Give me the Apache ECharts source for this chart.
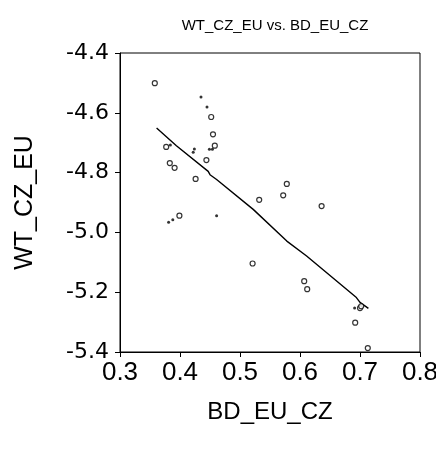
<!DOCTYPE html>
<html>
<head>
<meta charset="utf-8">
<script src="https://cdn.jsdelivr.net/npm/echarts@6/dist/echarts.min.js"></script>
<style>
html, body { margin: 0; padding: 0; background: #fff; }
#chart { width: 436px; height: 452px; }
</style>
</head>
<body>
<div id="chart"></div>
<script>
// hollow circle observations
var circleX = [0.358, 0.452, 0.455, 0.458, 0.444, 0.377, 0.383, 0.391, 0.426, 0.399, 0.532, 0.572, 0.578, 0.636, 0.521, 0.607, 0.612, 0.700, 0.702, 0.692, 0.713];
var circleY = [-4.501, -4.614, -4.672, -4.710, -4.758, -4.714, -4.768, -4.784, -4.821, -4.944, -4.891, -4.876, -4.838, -4.912, -5.104, -5.163, -5.190, -5.253, -5.247, -5.302, -5.387];
// small filled dots
var dotX = [0.435, 0.445, 0.449, 0.454, 0.424, 0.422, 0.384, 0.388, 0.381, 0.461, 0.691];
var dotY = [-4.547, -4.581, -4.722, -4.722, -4.721, -4.732, -4.708, -4.958, -4.966, -4.944, -5.253];
// fitted line
var fitX = [0.361, 0.394, 0.447, 0.450, 0.461, 0.522, 0.578, 0.611, 0.694, 0.700, 0.714];
var fitY = [-4.651, -4.710, -4.796, -4.807, -4.823, -4.923, -5.029, -5.079, -5.218, -5.234, -5.254];

function pairs(xs, ys) {
    var out = [];
    for (var i = 0; i < xs.length; i++) out.push([xs[i], ys[i]]);
    return out;
}

var font = '"Liberation Sans", Arial, sans-serif';
var myChart = echarts.init(document.getElementById('chart'));

var option = {
    animation: false,
    backgroundColor: '#fff',
    title: {
        text: 'WT_CZ_EU vs. BD_EU_CZ',
        left: 270,
        top: 13,
        textAlign: 'center',
        textStyle: { fontFamily: font, fontSize: 15, fontWeight: 'normal', color: '#000' }
    },
    grid: {
        left: 120, top: 53, right: 16, bottom: 100,
        outerBoundsMode: 'none',
        containLabel: false,
        show: true, borderColor: '#000', borderWidth: 1, backgroundColor: 'transparent'
    },
    xAxis: {
        type: 'value',
        min: 0.3, max: 0.8, interval: 0.1,
        name: 'BD_EU_CZ',
        nameLocation: 'middle',
        nameGap: 48,
        nameTextStyle: { fontFamily: font, fontSize: 24, color: '#000' },
        axisLine: { lineStyle: { color: '#000', width: 1 } },
        axisTick: { length: 5, lineStyle: { color: '#000' } },
        axisLabel: {
            fontFamily: font, fontSize: 26, color: '#000', margin: 8,
            showMaxLabel: true,
            formatter: function (v) { return v.toFixed(1); }
        },
        splitLine: { show: false }
    },
    yAxis: {
        type: 'value',
        min: -5.4, max: -4.4, interval: 0.2,
        name: 'WT_CZ_EU',
        nameLocation: 'middle',
        nameGap: 82,
        nameRotate: 90,
        nameTextStyle: { fontFamily: font, fontSize: 25, color: '#000' },
        axisLine: { lineStyle: { color: '#000', width: 1 } },
        axisTick: { length: 5, lineStyle: { color: '#000' } },
        axisLabel: {
            fontFamily: '"DejaVu Sans", sans-serif', fontSize: 22, color: '#000', margin: 11,
            formatter: function (v) { return v.toFixed(1); }
        },
        splitLine: { show: false }
    },
    series: [
        {
            type: 'line',
            data: pairs(fitX, fitY),
            showSymbol: false,
            lineStyle: { color: '#000', width: 1.4 },
            z: 2
        },
        {
            type: 'scatter',
            data: pairs(circleX, circleY),
            symbol: 'circle',
            symbolSize: 5,
            itemStyle: { color: '#fff', borderColor: '#000', borderWidth: 1.2 },
            z: 3
        },
        {
            type: 'scatter',
            data: pairs(dotX, dotY),
            symbol: 'circle',
            symbolSize: 3,
            itemStyle: { color: '#000' },
            z: 3
        }
    ]
};

myChart.setOption(option);
</script>
</body>
</html>
